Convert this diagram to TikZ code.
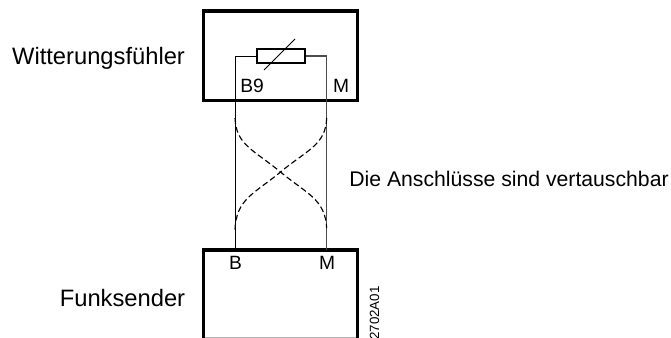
\documentclass[tikz,border=0pt]{standalone}
\usepackage{fontspec}
\setmainfont{Liberation Sans}
\begin{document}
\begin{tikzpicture}[x=0.75pt,y=-0.75pt,
  thickbox/.style={draw=black,line width=2.6pt,line join=miter},
  wire/.style={draw=black,line width=0.65pt},
  wireb/.style={draw=black!70,line width=0.9pt},
  swap/.style={draw=black,line width=0.85pt,dash pattern=on 4.4pt off 2.4pt},
  lbl/.style={inner sep=0pt,font=\fontsize{14.4}{16}\selectfont,text=black},
  biglbl/.style={inner sep=0pt,font=\fontsize{17.8}{20}\selectfont,text=black}]
\useasboundingbox (0,0) rectangle (671,338);
% boxes
\draw[thickbox] (203.5,11) rectangle (357.5,100.5);
\draw[thickbox] (203.5,338.5) -- (203.5,250) -- (357.5,250) -- (357.5,338.5);
\draw[black!30,line width=0.5pt] (205,337.5) -- (356,337.5);
% resistor
\node[draw=black,line width=1.5pt,minimum width=36pt,minimum height=10.8pt,inner sep=0pt,anchor=center] (R) at (281,56) {};
\coordinate (tl) at (235,56);
\coordinate (tr) at (326.7,56);
\coordinate (bl) at (235,250);
\coordinate (br) at (326.7,250);
\coordinate (sa) at (264,70);
\coordinate (sb) at (295,39);
\draw[wire] (R.west) -- (tl) -- (bl);
\draw[wireb] (R.east) -- (tr) -- (br);
\draw[black,line width=0.6pt] (sa) -- (sb);
% swapped
\coordinate (a1) at (235,118);
\coordinate (a2) at (326.7,228);
\coordinate (b1) at (326.7,118);
\coordinate (b2) at (235,230);
\coordinate (x) at (280.5,172);
\draw[swap] (a1) .. controls (236,145) and (254,150) .. (x) .. controls (307,194) and (325,199) .. (a2);
\draw[swap] (b1) .. controls (325.7,145) and (307,150) .. (x) .. controls (254,194) and (236,199) .. (b2);
% labels
\node[biglbl,anchor=center] (t1) at (98.5,58) {Witterungsfühler};
\node[biglbl,anchor=center] (t2) at (122.5,298) {Funksender};
\node[inner sep=0pt,font=\fontsize{15.9}{18}\selectfont,anchor=center] (t3) at (509,179) {Die Anschlüsse sind vertauschbar};
\node[lbl,anchor=center] (b9) at (252,86) {B9};
\node[lbl,anchor=center] (m1) at (341,86) {M};
\node[lbl,anchor=center] (bb) at (235.5,263) {B};
\node[lbl,anchor=center] (m2) at (327,263) {M};
\node[inner sep=0pt,rotate=90,font=\fontsize{10}{12}\selectfont,anchor=center] (code) at (374.5,313) {2702A01};
\end{tikzpicture}
\end{document}
